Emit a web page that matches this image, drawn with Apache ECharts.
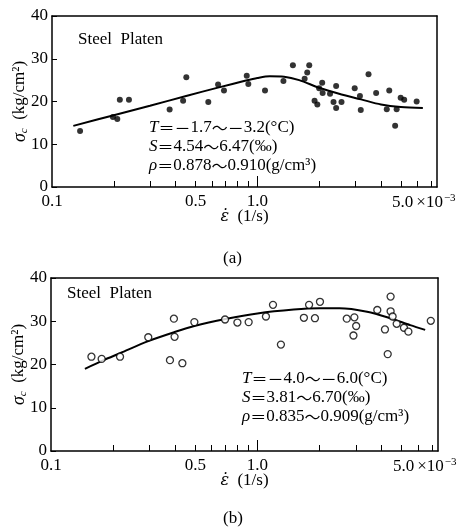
<!DOCTYPE html>
<html>
<head>
<meta charset="utf-8">
<script src="https://cdn.jsdelivr.net/npm/echarts@6/dist/echarts.min.js"></script>
<style>
  html, body { margin: 0; background: #fff; }
  #chart { width: 463px; height: 527px; }
</style>
</head>
<body>
<div id="chart"></div>
<script>
// (a) T = -1.7 ~ -3.2 °C, filled dots
const topX = [0.137, 0.198, 0.208, 0.214, 0.237, 0.374, 0.435, 0.451, 0.577, 0.644, 0.688,
  0.888, 0.904, 1.09, 1.34, 1.49, 1.70, 1.75, 1.79, 1.90, 1.96, 2.00, 2.07, 2.08, 2.26,
  2.35, 2.42, 2.42, 2.57, 2.98, 3.16, 3.19, 3.48, 3.79, 4.27, 4.39, 4.69, 4.77, 4.99, 5.19, 5.97];
const topY = [13.1, 16.4, 15.9, 20.4, 20.4, 18.1, 20.2, 25.7, 19.9, 24.0, 22.6,
  26.0, 24.1, 22.6, 24.8, 28.5, 25.3, 26.8, 28.5, 20.2, 19.3, 23.1, 24.4, 22.0, 21.8,
  19.9, 23.6, 18.5, 19.9, 23.1, 21.3, 18.0, 26.4, 22.0, 18.2, 22.6, 14.3, 18.2, 20.9, 20.4, 20.0];
const topCurveX = [0.127, 0.2, 0.3, 0.45, 0.65, 0.88, 1.0, 1.15, 1.35, 1.6, 2.0, 2.5, 3.2, 4.0, 5.0, 6.4];
const topCurveY = [14.3, 16.8, 19.0, 21.3, 23.3, 24.9, 25.5, 25.9, 25.8, 25.0, 23.2, 21.8, 20.5, 19.3, 18.7, 18.5];

// (b) T = -4.0 ~ -6.0 °C, open circles
const botX = [0.157, 0.176, 0.216, 0.296, 0.377, 0.394, 0.397, 0.433, 0.495, 0.697, 0.80,
  0.907, 1.10, 1.19, 1.30, 1.68, 1.78, 1.90, 2.01, 2.71, 2.95, 3.01, 2.92, 3.81, 4.15,
  4.28, 4.42, 4.42, 4.52, 4.73, 5.13, 5.39, 6.92];
const botY = [21.8, 21.3, 21.8, 26.3, 21.0, 30.6, 26.4, 20.3, 29.8, 30.4, 29.7,
  29.8, 31.1, 33.8, 24.6, 30.8, 33.8, 30.7, 34.5, 30.6, 30.9, 28.9, 26.7, 32.6, 28.1,
  22.4, 35.7, 32.3, 31.1, 29.4, 28.5, 27.6, 30.1];
const botCurveX = [0.146, 0.18, 0.216, 0.296, 0.397, 0.495, 0.7, 1.0, 1.5, 2.0, 2.5, 3.4, 4.4, 5.5, 6.5];
const botCurveY = [19.0, 21.0, 22.6, 25.4, 27.5, 28.9, 30.5, 31.8, 32.7, 33.0, 33.0, 32.2, 30.7, 29.1, 28.0];

const xTickValues = [0.2, 0.3, 0.4, 0.5, 0.6, 0.7, 0.8, 0.9, 2, 3, 4, 5, 6, 7];
const xLabelValues = [0.1, 0.5, 1, 5];

const FONT = '"Liberation Serif", "DejaVu Serif", serif';
const CJK = '"Noto Sans CJK JP", sans-serif';
const pairs = (xs, ys) => xs.map((x, i) => [x, ys[i]]);
const LINE = { color: '#000', width: 1.5 };

const chart = echarts.init(document.getElementById('chart'));

function xAxes(gi) {
  return [{
    type: 'log', gridIndex: gi, min: 0.1, max: 7.5, position: 'bottom',
    axisLine: { show: true, lineStyle: LINE },
    axisTick: { show: true, inside: true, length: 6, customValues: xTickValues, lineStyle: { color: '#000', width: 1 } },
    axisLabel: {
      customValues: xLabelValues, margin: 6, color: '#000', fontFamily: FONT, fontSize: 17,
      formatter: v => Math.abs(v - 5) < 1e-6 ? '{p|}5.0{m|×10}{s|−3}' : (+v).toFixed(1),
      rich: {
        p: { width: 46 },
        m: { fontFamily: FONT, fontSize: 17, color: '#000', padding: [0, 0, 0, 3] },
        s: { fontFamily: FONT, fontSize: 11, color: '#000', verticalAlign: 'top', padding: [0, 0, 9, 1] }
      }
    },
    splitLine: { show: false },
    name: '{i|ε̇}  (1/s)', nameLocation: 'middle', nameGap: 21, nameMoveOverlap: false,
    nameTextStyle: {
      color: '#000', fontFamily: FONT, fontSize: 17,
      rich: { i: { fontFamily: '"DejaVu Serif", serif', fontStyle: 'italic', fontSize: 16, color: '#000' } }
    }
  }, {
    // longer tick at 1.0
    type: 'log', gridIndex: gi, min: 0.1, max: 7.5, position: 'bottom',
    axisLine: { show: false },
    axisTick: { show: true, inside: true, length: 11, customValues: [1], lineStyle: { color: '#000', width: 1 } },
    axisLabel: { show: false },
    splitLine: { show: false }
  }, {
    // top frame line
    type: 'log', gridIndex: gi, min: 0.1, max: 7.5, position: 'top',
    axisLine: { show: true, lineStyle: LINE },
    axisTick: { show: false }, axisLabel: { show: false }, splitLine: { show: false }
  }];
}

function yAxes(gi) {
  return [{
    type: 'value', gridIndex: gi, min: 0, max: 40, interval: 10, position: 'left',
    axisLine: { show: true, lineStyle: LINE },
    axisTick: { show: true, inside: true, length: 5, lineStyle: { color: '#000', width: 1 } },
    axisLabel: { margin: 4, color: '#000', fontFamily: FONT, fontSize: 17 },
    splitLine: { show: false },
    name: '{i|σ}{sub|c}  (kg/cm²)', nameLocation: 'middle', nameGap: 22, nameMoveOverlap: false,
    nameTextStyle: {
      color: '#000', fontFamily: FONT, fontSize: 17,
      rich: {
        i: { fontFamily: FONT, fontStyle: 'italic', fontSize: 18, color: '#000' },
        sub: { fontFamily: FONT, fontStyle: 'italic', fontSize: 11, color: '#000', padding: [9, 0, 0, 0] }
      }
    }
  }, {
    // right frame line
    type: 'value', gridIndex: gi, min: 0, max: 40, interval: 10, position: 'right',
    axisLine: { show: true, lineStyle: LINE },
    axisTick: { show: false }, axisLabel: { show: false }, splitLine: { show: false }
  }];
}

const richParam = {
  i: { fontFamily: FONT, fontStyle: 'italic', fontSize: 17, fill: '#000' },
  w: { fontFamily: CJK, fontSize: 16, fill: '#000' }
};

function paramText(left, top, lines) {
  return lines.map((t, i) => ({
    type: 'text', left: left, top: top + i * 19,
    style: { text: t, fill: '#000', font: '17px ' + FONT, rich: richParam }
  }));
}

chart.setOption({
  animation: false,
  backgroundColor: '#fff',
  grid: [
    { left: 52, right: 26, top: 16, bottom: 340, outerBoundsMode: 'none' },
    { left: 51, right: 25, top: 278, bottom: 76, outerBoundsMode: 'none' }
  ],
  xAxis: [...xAxes(0), ...xAxes(1)],
  yAxis: [...yAxes(0), ...yAxes(1)],
  series: [
    { type: 'line', xAxisIndex: 0, yAxisIndex: 0, data: pairs(topCurveX, topCurveY), smooth: 0.3,
      showSymbol: false, lineStyle: { color: '#000', width: 2 }, z: 2 },
    { type: 'scatter', xAxisIndex: 0, yAxisIndex: 0, data: pairs(topX, topY), symbolSize: 6,
      itemStyle: { color: '#000' }, z: 3 },
    { type: 'line', xAxisIndex: 3, yAxisIndex: 2, data: pairs(botCurveX, botCurveY), smooth: 0.3,
      showSymbol: false, lineStyle: { color: '#000', width: 2 }, z: 2 },
    { type: 'scatter', xAxisIndex: 3, yAxisIndex: 2, data: pairs(botX, botY), symbolSize: 7,
      itemStyle: { color: '#fff', borderColor: '#000', borderWidth: 1.3 }, z: 3 }
  ],
  graphic: [
    { type: 'text', left: 78, top: 31, style: { text: 'Steel  Platen', fill: '#000', font: '17px ' + FONT } },
    ...paramText(149, 119, ['{i|T}{w|＝－}1.7{w|～－}3.2(°C)', '{i|S}{w|＝}4.54{w|～}6.47(‰)', '{i|ρ}{w|＝}0.878{w|～}0.910(g/cm³)']),
    { type: 'text', left: 223, top: 250, style: { text: '(a)', fill: '#000', font: '17px ' + FONT } },
    { type: 'text', left: 67, top: 285, style: { text: 'Steel  Platen', fill: '#000', font: '17px ' + FONT } },
    ...paramText(242, 370, ['{i|T}{w|＝－}4.0{w|～－}6.0(°C)', '{i|S}{w|＝}3.81{w|～}6.70(‰)', '{i|ρ}{w|＝}0.835{w|～}0.909(g/cm³)']),
    { type: 'text', left: 223, top: 510, style: { text: '(b)', fill: '#000', font: '17px ' + FONT } }
  ]
});
</script>
</body>
</html>
